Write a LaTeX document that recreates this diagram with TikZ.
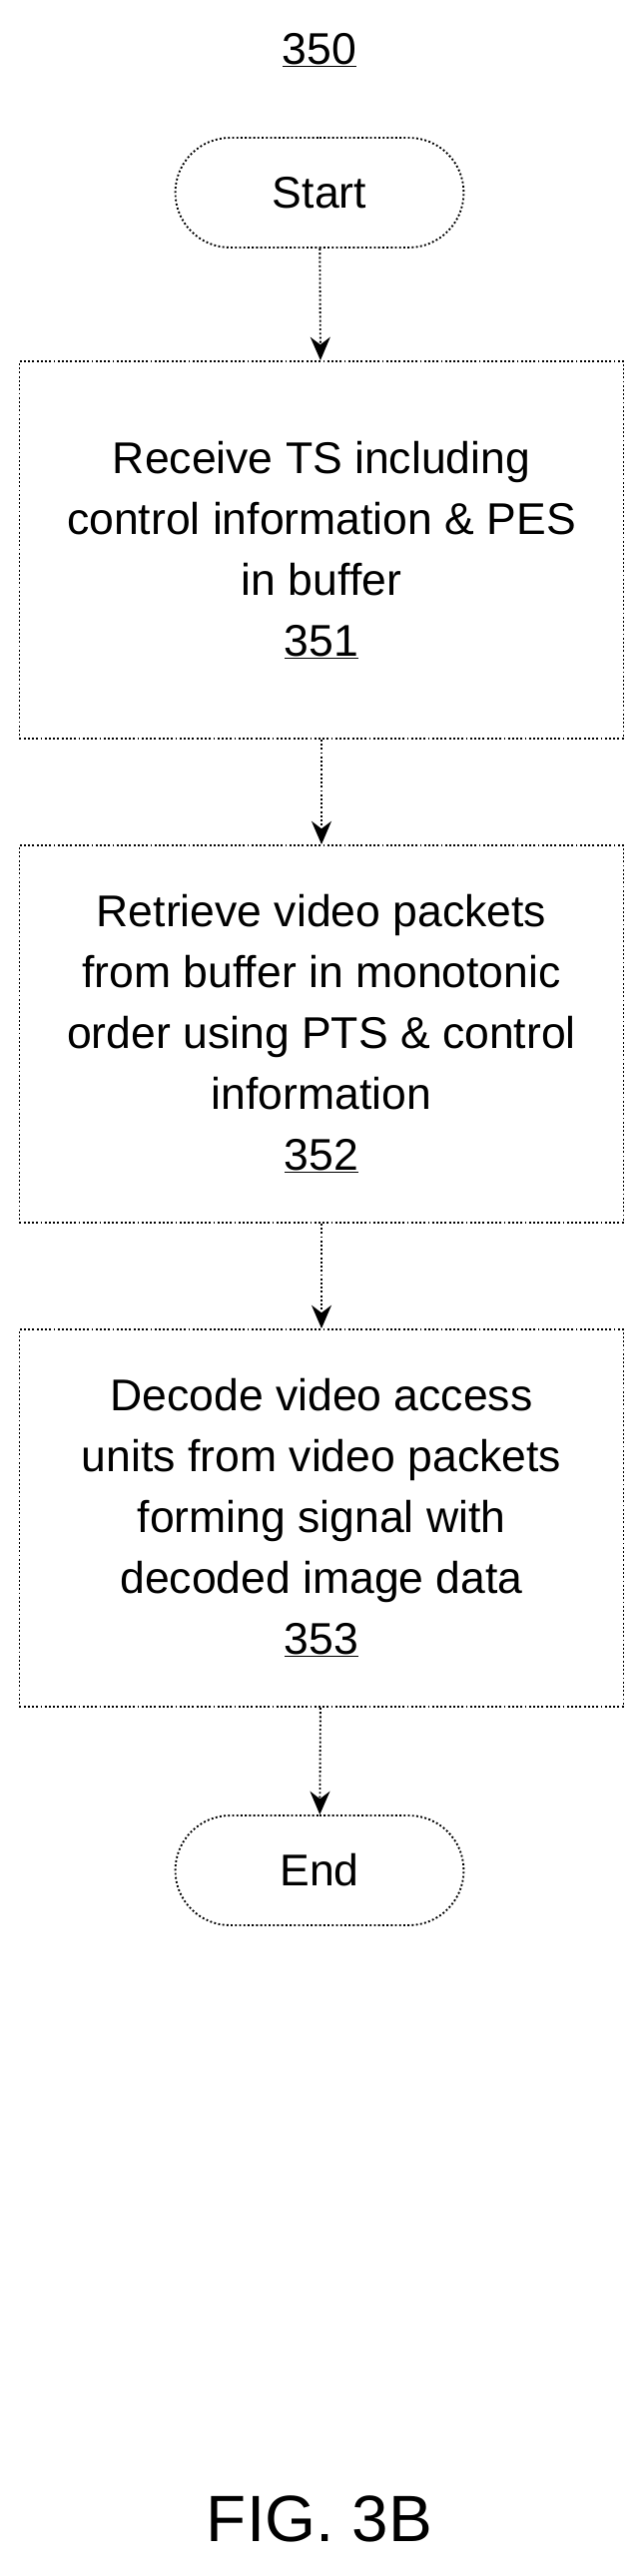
\documentclass[tikz,border=0pt]{standalone}
\usepackage{fontspec}
\setmainfont{Liberation Sans}
\usetikzlibrary{arrows.meta,shapes.misc}
\tikzset{
  stepbox/.style={draw, dotted, line width=1.6pt, minimum width=18.15cm, minimum height=11.34cm, align=center, font=\fontsize{38}{52}\selectfont},
  termbox/.style={draw, dotted, line width=1.6pt, rounded rectangle, minimum width=8.9cm, minimum height=3.3cm, font=\fontsize{38}{46}\selectfont},
  flow/.style={dotted, line width=1.6pt, -{Stealth[length=7mm,width=6mm]}}
}
\begin{document}
\begin{tikzpicture}[x=0.03cm,y=-0.03cm]
	\useasboundingbox (0,0) rectangle (641,2581);
	\node[font=\fontsize{38}{46}\selectfont] (title) at (320,50) {\underline{350}};
	\node[termbox] (start) at (320,193) {Start};
	\node[stepbox] (s351) at (322,551) {Receive TS including\\control information \& PES\\in buffer\\\underline{351}};
	\node[stepbox] (s352) at (322,1036) {Retrieve video packets\\from buffer in monotonic\\order using PTS \& control\\information\\\underline{352}};
	\node[stepbox] (s353) at (322,1521) {Decode video access\\units from video packets\\forming signal with\\decoded image data\\\underline{353}};
	\node[termbox] (end) at (320,1874) {End};
	\node[font=\fontsize{56}{64}\selectfont] (fig) at (320,2524) {FIG. 3B};
	\draw[flow] (start) -- (s351);
	\draw[flow] (s351) -- (s352);
	\draw[flow] (s352) -- (s353);
	\draw[flow] (s353) -- (end);
\end{tikzpicture}
\end{document}
